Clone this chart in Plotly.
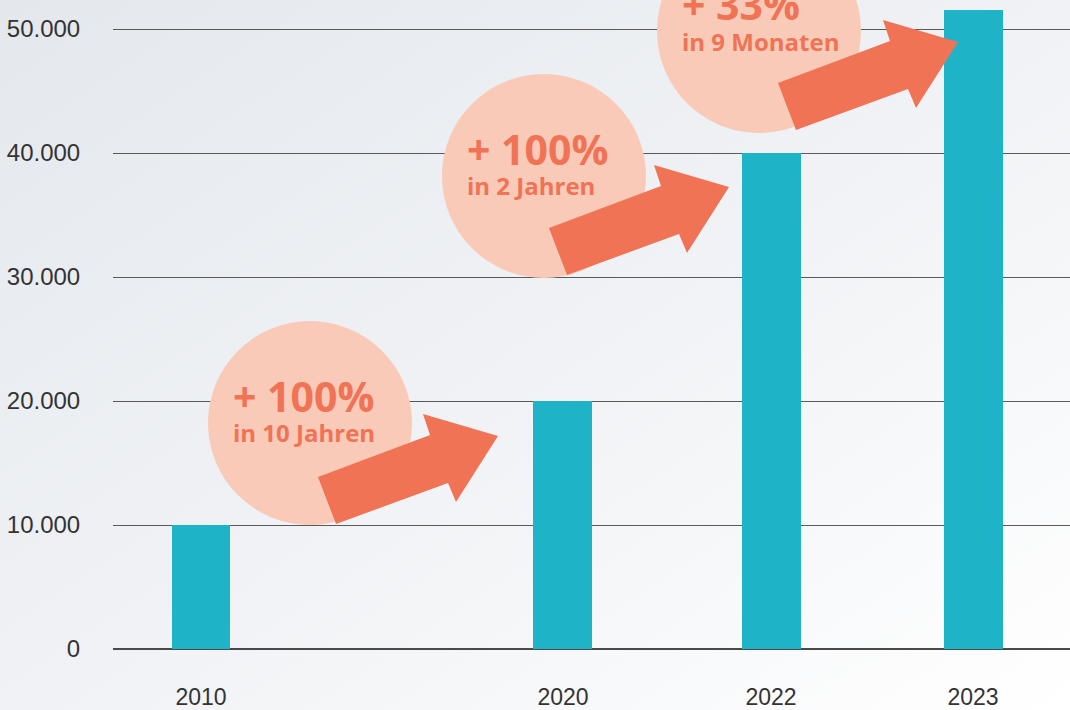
import base64
import plotly.graph_objects as go

# ---------------- data ----------------
years = ["2010", "2020", "2022", "2023"]
values = [10000, 20000, 40000, 51500]
slot_positions = [0.0, 1.792, 2.822, 3.822]   # uneven category placement along x
y_ticks = [0, 10000, 20000, 30000, 40000, 50000]

callout_big = ["+ 100%", "+ 100%", "+ 33%"]
callout_small = ["in 10 Jahren", "in 2 Jahren", "in 9 Monaten"]

# ---------------- styling ----------------
W, H = 1070, 710
ML, MR, MT, MB = 113, 0, 0, 61
PW, PH = W - ML - MR, H - MT - MB
BAR_COLOR = "#1FB3C8"
CIRCLE_COLOR = "#F9CAB7"
ACCENT = "#F07355"


def px(x):
    return (x - ML) / PW


def py(y):
    return (MT + PH - y) / PH


fig = go.Figure()
fig.add_trace(go.Bar(
    x=slot_positions, y=values, width=0.292,
    marker=dict(color=BAR_COLOR, line=dict(width=0)),
    hoverinfo="skip", showlegend=False,
))

# gradient background as an inline SVG image
svg = f'''<svg xmlns="http://www.w3.org/2000/svg" width="{W}" height="{H}" viewBox="0 0 {W} {H}" preserveAspectRatio="none">
<defs><linearGradient id="g" x1="0" y1="0" x2="1" y2="1">
<stop offset="0" stop-color="#E4E8ED"/>
<stop offset="0.55" stop-color="#F1F3F6"/>
<stop offset="1" stop-color="#FFFFFF"/>
</linearGradient></defs>
<rect width="{W}" height="{H}" fill="url(#g)"/></svg>'''
src = "data:image/svg+xml;base64," + base64.b64encode(svg.encode()).decode()
fig.add_layout_image(dict(
    source=src, xref="paper", yref="paper",
    x=-ML / PW, y=1 + MT / PH, sizex=W / PW, sizey=H / PH,
    xanchor="left", yanchor="top", sizing="stretch", layer="below",
))

# callout circles (pixel centres) and arrows (tip positions)
circle_centres = [(310, 423), (544, 176), (759, 31)]
R = 102
arrow_tips = [(498, 436), (729, 187), (958, 42)]
arrow_shape = [(-180, 41), (-68, -1), (-75, -22), (0, 0), (-42, 66), (-50, 47), (-162, 88)]

shapes = []
for (cx, cy) in circle_centres:
    shapes.append(dict(type="circle", xref="paper", yref="paper",
                       x0=px(cx - R), x1=px(cx + R), y0=py(cy + R), y1=py(cy - R),
                       fillcolor=CIRCLE_COLOR, line=dict(width=0), layer="above"))
for (tx, ty) in arrow_tips:
    pts = [(px(tx + dx), py(ty + dy)) for dx, dy in arrow_shape]
    path = "M " + " L ".join(f"{a:.5f},{b:.5f}" for a, b in pts) + " Z"
    shapes.append(dict(type="path", xref="paper", yref="paper", path=path,
                       fillcolor=ACCENT, line=dict(width=0), layer="above"))

annotations = []
for i, (cx, cy) in enumerate(circle_centres):
    left = cx - 79
    annotations.append(dict(
        text=f"<b>{callout_big[i]}</b>", xref="paper", yref="paper",
        x=px(left), y=py(cy - 27), xanchor="left", yanchor="middle",
        showarrow=False, font=dict(family="Open Sans", size=41, color=ACCENT)))
    annotations.append(dict(
        text=f"<b>{callout_small[i]}</b>", xref="paper", yref="paper",
        x=px(left), y=py(cy + 10), xanchor="left", yanchor="middle",
        showarrow=False, font=dict(family="Open Sans", size=24, color=ACCENT)))

ymax = PH / ((PH - 29) / 50000)

fig.update_layout(
    width=W, height=H, autosize=False,
    margin=dict(l=ML, r=MR, t=MT, b=MB, pad=0, autoexpand=False),
    paper_bgcolor="#FFFFFF", plot_bgcolor="rgba(0,0,0,0)",
    separators=",.",
    shapes=shapes, annotations=annotations,
    bargap=0,
    xaxis=dict(
        range=[(ML - 201) / 202, (W - 201) / 202],
        tickvals=slot_positions, ticktext=years,
        showgrid=False, zeroline=False, showline=False,
        ticks="outside", ticklen=27, tickcolor="rgba(0,0,0,0)",
        tickfont=dict(family="Liberation Sans", size=23, color="#333333"),
        fixedrange=True,
    ),
    yaxis=dict(
        range=[0, ymax],
        tickvals=y_ticks, tickformat=",d",
        showgrid=True, gridcolor="#5A5A5A", gridwidth=1.3,
        zeroline=True, zerolinecolor="#4A4A4A", zerolinewidth=2,
        showline=False,
        ticks="outside", ticklen=27, tickcolor="rgba(0,0,0,0)",
        tickfont=dict(family="Liberation Sans", size=24, color="#333333"),
        fixedrange=True,
    ),
)

fig.write_html(
    "out.html",
    config=dict(displayModeBar=False),
    post_script="document.body.style.margin='0';document.body.style.overflow='hidden';",
)
